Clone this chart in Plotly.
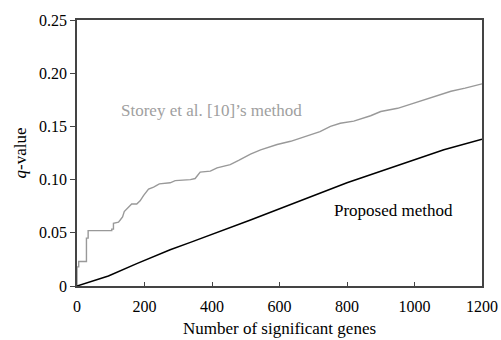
import plotly.graph_objects as go

# Storey et al. [10]'s method (stepped q-value curve)
storey_genes = [0, 0, 5, 5, 28, 28, 33, 33, 93, 103, 103, 108, 108, 123, 128, 135, 140,
                152, 162, 177, 187, 197, 212, 227, 244, 276, 291, 336, 350, 365, 395,
                415, 454, 479, 514, 544, 593, 633, 662, 700, 720, 751, 780, 820, 841,
                870, 900, 950, 980, 1019, 1050, 1080, 1108, 1150, 1200]
storey_q = [0.0, 0.018, 0.018, 0.023, 0.023, 0.045, 0.045, 0.052, 0.052, 0.052, 0.0535,
            0.0535, 0.059, 0.060, 0.062, 0.065, 0.070, 0.074, 0.077, 0.077, 0.080,
            0.085, 0.091, 0.093, 0.096, 0.097, 0.099, 0.100, 0.101, 0.107, 0.108,
            0.111, 0.114, 0.118, 0.124, 0.128, 0.133, 0.136, 0.139, 0.143, 0.145,
            0.150, 0.153, 0.155, 0.157, 0.160, 0.164, 0.167, 0.170, 0.174, 0.177,
            0.180, 0.183, 0.186, 0.190]

# Proposed method
proposed_genes = [0, 93, 177, 276, 336, 514, 800, 1087, 1200]
proposed_q = [0.0, 0.0094, 0.021, 0.034, 0.041, 0.062, 0.097, 0.128, 0.138]

x_ticks = [0, 200, 400, 600, 800, 1000, 1200]
y_ticks = [0, 0.05, 0.10, 0.15, 0.20, 0.25]
y_ticktext = ["0", "0.05", "0.10", "0.15", "0.20", "0.25"]

font_family = "Liberation Serif, Times New Roman, serif"

fig = go.Figure()
fig.add_trace(go.Scatter(x=storey_genes, y=storey_q, mode="lines",
                         line=dict(color="#999999", width=1.4), showlegend=False,
                         cliponaxis=False))
fig.add_trace(go.Scatter(x=proposed_genes, y=proposed_q, mode="lines",
                         line=dict(color="black", width=1.5), showlegend=False))

fig.add_annotation(x=398, y=0.165, text="Storey et al. [10]’s method", showarrow=False,
                   font=dict(family=font_family, size=17, color="#a0a0a0"))
fig.add_annotation(x=938, y=0.071, text="Proposed method", showarrow=False,
                   font=dict(family=font_family, size=17, color="black"))

fig.update_layout(
    width=501, height=340,
    margin=dict(l=77, r=19, t=20, b=54),
    paper_bgcolor="white", plot_bgcolor="white",
    font=dict(family=font_family, size=16, color="black"),
    xaxis=dict(range=[0, 1200], tickvals=x_ticks, ticks="inside", ticklen=4,
               tickcolor="#444444", automargin=False, ticklabeloverflow="allow",
               ticklabelstandoff=5,
               showline=True, linecolor="#444444", linewidth=1.5, mirror=True,
               showgrid=False, zeroline=False,
               title=dict(text="Number of significant genes", font=dict(size=17), standoff=8)),
    yaxis=dict(range=[0, 0.25], tickvals=y_ticks, ticktext=y_ticktext, ticks="outside",
               ticklen=5, tickcolor="#444444", automargin=False, ticklabeloverflow="allow",
               showline=True, linecolor="#444444", linewidth=1.5, mirror=True,
               showgrid=False, zeroline=False,
               title=dict(text="<i>q</i>-value", font=dict(size=17), standoff=8)),
)

# remove the default 8px page margin so the figure fills the window exactly
fig.write_html("out.html",
               config={"displayModeBar": False},
               post_script="document.body.style.margin='0px';")
